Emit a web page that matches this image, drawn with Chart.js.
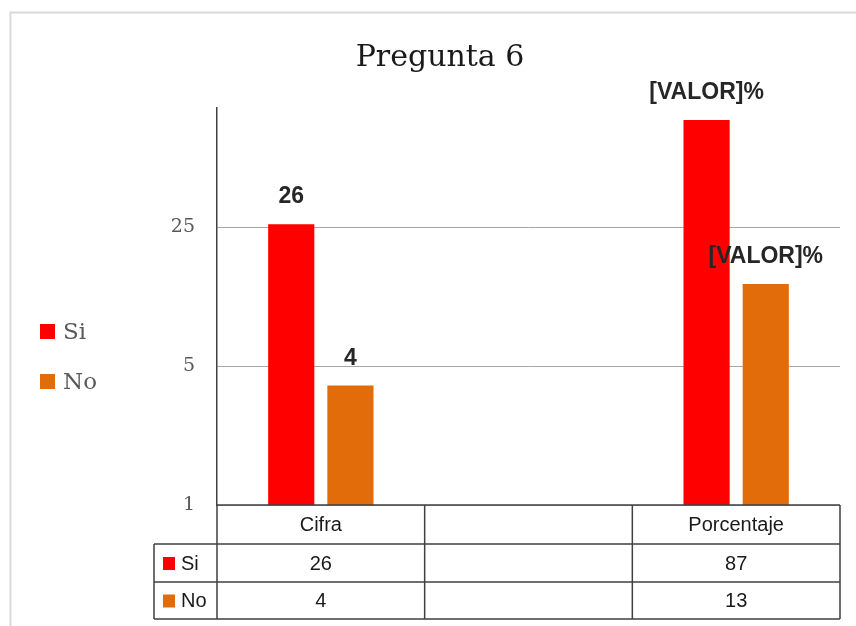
<!DOCTYPE html>
<html>
<head>
<meta charset="utf-8">
<script src="https://cdn.jsdelivr.net/npm/chart.js@4/dist/chart.umd.min.js"></script>
<style>
  html, body { margin: 0; padding: 0; background: #ffffff; }
  #wrap { width: 856px; height: 626px; position: relative; }
</style>
</head>
<body>
<div id="wrap"><canvas id="c" width="856" height="626"></canvas></div>
<script>
// Categories (the middle one is an empty spacer column)
const categorias = ['Cifra', '', 'Porcentaje'];
// Series values
const valoresSi = [26, null, 87];
const valoresNo = [4, null, 13];
// Y-axis ticks (log scale)
const ticksY = [1, 5, 25];
const nombresSeries = ['Si', 'No'];
const coloresSeries = ['#FF0000', '#E36C0A'];

const serifFont = '"DejaVu Serif", "Liberation Serif", serif';
const sansFont = '"Liberation Sans", Arial, sans-serif';

// Labels above the bars; the percentage column shows the unresolved field text
function etiqueta(valor, idxCategoria) {
  if (valor == null) return '';
  return categorias[idxCategoria] === 'Porcentaje' ? '[VALOR]%' : String(valor);
}

const decoracion = {
  id: 'decoracion',
  beforeDraw(chart) {
    const ctx = chart.ctx;
    ctx.save();
    ctx.fillStyle = '#ffffff';
    ctx.fillRect(0, 0, chart.width, chart.height);
    // outer frame
    ctx.strokeStyle = '#d9d9d9';
    ctx.lineWidth = 2;
    ctx.beginPath();
    ctx.moveTo(10.5, 626);
    ctx.lineTo(10.5, 12.5);
    ctx.lineTo(856, 12.5);
    ctx.stroke();
    ctx.restore();
  },
  afterDraw(chart) {
    const ctx = chart.ctx;
    const area = chart.chartArea;
    const x = chart.scales.x;
    ctx.save();

    // title
    ctx.fillStyle = '#1a1a1a';
    ctx.font = '30px ' + serifFont;
    ctx.textAlign = 'center';
    ctx.textBaseline = 'middle';
    ctx.fillText('Pregunta 6', 440, 58);

    // legend
    const legY = [332, 382];
    nombresSeries.forEach((n, i) => {
      ctx.fillStyle = coloresSeries[i];
      ctx.fillRect(40, legY[i] - 8, 15, 15);
      ctx.fillStyle = '#595959';
      ctx.font = '23px ' + serifFont;
      ctx.textAlign = 'left';
      ctx.textBaseline = 'middle';
      ctx.fillText(n, 63, legY[i] + 1);
    });

    // data labels above bars
    ctx.fillStyle = '#262626';
    ctx.font = 'bold 23px ' + sansFont;
    ctx.textAlign = 'center';
    ctx.textBaseline = 'middle';
    chart.data.datasets.forEach((ds, di) => {
      const meta = chart.getDatasetMeta(di);
      meta.data.forEach((bar, ci) => {
        const t = etiqueta(ds.data[ci], ci);
        if (t) ctx.fillText(t, bar.x, bar.y - 27);
      });
    });

    // data table under the plot
    const left = area.left, right = area.right;
    const keyLeft = 154;
    const rows = [area.bottom, 544, 582, 619];
    const step = (right - left) / categorias.length;
    const colX = categorias.map((_, i) => left + step * i).concat([right]);

    ctx.strokeStyle = '#404040';
    ctx.lineWidth = 1.5;
    ctx.beginPath();
    // horizontal lines
    ctx.moveTo(left, rows[0]); ctx.lineTo(right, rows[0]);
    for (let r = 1; r < rows.length; r++) {
      ctx.moveTo(keyLeft, rows[r]); ctx.lineTo(right, rows[r]);
    }
    // vertical lines
    colX.forEach(cx => { ctx.moveTo(cx, rows[0]); ctx.lineTo(cx, rows[3]); });
    ctx.moveTo(keyLeft, rows[1]); ctx.lineTo(keyLeft, rows[3]);
    ctx.stroke();

    ctx.font = '20px ' + sansFont;
    ctx.fillStyle = '#1a1a1a';
    ctx.textAlign = 'center';
    ctx.textBaseline = 'middle';
    categorias.forEach((c, i) => {
      const cx = x.getPixelForValue(i);
      ctx.fillText(c, cx, (rows[0] + rows[1]) / 2 + 1);
    });
    const series = [valoresSi, valoresNo];
    series.forEach((vals, si) => {
      const cy = (rows[si + 1] + rows[si + 2]) / 2 + 1;
      vals.forEach((v, i) => {
        if (v == null) return;
        ctx.fillText(String(v), x.getPixelForValue(i), cy);
      });
      ctx.fillStyle = coloresSeries[si];
      ctx.fillRect(163, cy - 7, 12, 13);
      ctx.fillStyle = '#1a1a1a';
      ctx.textAlign = 'left';
      ctx.fillText(nombresSeries[si], 181, cy);
      ctx.textAlign = 'center';
    });
    ctx.restore();
  }
};

new Chart(document.getElementById('c'), {
  type: 'bar',
  data: {
    labels: categorias,
    datasets: [
      { label: nombresSeries[0], data: valoresSi, backgroundColor: coloresSeries[0] },
      { label: nombresSeries[1], data: valoresNo, backgroundColor: coloresSeries[1] }
    ]
  },
  options: {
    responsive: false,
    animation: false,
    layout: { padding: { top: 108, left: 157, right: 16, bottom: 121 } },
    datasets: { bar: { categoryPercentage: 0.57, barPercentage: 0.78 } },
    plugins: {
      legend: { display: false },
      title: { display: false },
      tooltip: { enabled: false }
    },
    scales: {
      x: { display: false },
      y: {
        type: 'logarithmic',
        min: 1,
        max: 100,
        afterFit(scale) { scale.width = 60; },
        afterBuildTicks(scale) { scale.ticks = ticksY.map(v => ({ value: v })); },
        ticks: {
          padding: 22,
          color: '#595959',
          font: { family: serifFont, size: 19 },
          callback: v => String(v)
        },
        grid: { color: '#a6a6a6', lineWidth: 1, drawTicks: false },
        border: { display: true, color: '#404040', width: 1.5 }
      }
    }
  },
  plugins: [decoracion]
});
</script>
</body>
</html>
